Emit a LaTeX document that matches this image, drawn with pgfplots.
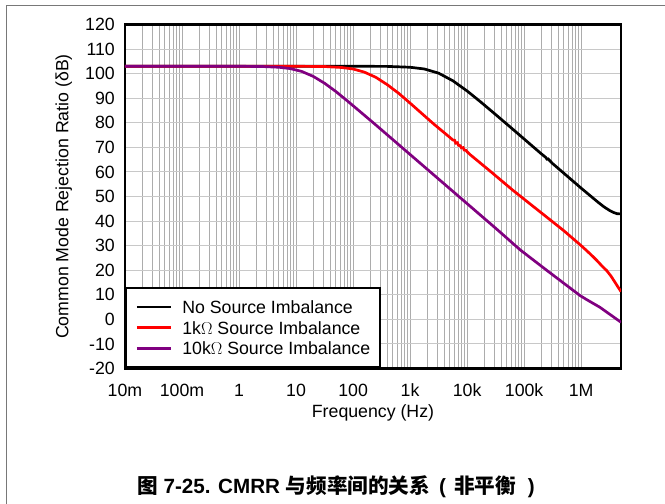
\documentclass[border=0pt]{standalone}
\usepackage{fontspec}
\setmainfont{Liberation Sans}
\newfontfamily\cjk{Noto Sans CJK SC}
\usepackage{pgfplots}
\pgfplotsset{compat=1.18}
\definecolor{cpurple}{RGB}{128,0,128}
\definecolor{cred}{RGB}{255,0,0}
\definecolor{gridx}{RGB}{172,172,172}
\definecolor{gridy}{RGB}{200,200,200}
\definecolor{framec}{RGB}{120,120,120}

\pgfplotstableread{
f v
0.01 103
100 103
398 102.95
1000 102.6
1778 101.9
3162 100.2
5623 97.1
10000 92.95
17783 88.25
31623 83.35
56234 78.4
100000 73.4
199526 67.4
239883 65.9
251189 65.2
263027 65.3
316228 63.4
1000000 53.4
1995262 47.6
2511886 45.8
3162278 44.3
3715352 43.5
4265795 43.0
5000000 42.9
}\tblack

\pgfplotstableread{
f v
0.01 103
10 103
31.62 102.9
63.1 102.5
100 101.9
158.5 100.6
251.2 98.5
398.1 95.5
631 92.0
1000 88.0
1585 83.9
2570 79.6
5012 74.0
5623 73.0
6026 72.9
6310 71.7
6761 71.9
7079 70.8
7586 70.7
7943 69.8
8511 69.9
8913 68.9
9550 68.8
10000 68.2
11220 67.1
25119 60.4
64565 52.4
177828 44.3
489779 36.2
1000000 30.0
1258925 27.9
1584893 25.7
1862087 24.1
2238721 22.1
2818383 19.8
3311311 17.7
3801894 15.6
4365158 13.4
5000000 11.3
}\tred

\pgfplotstableread{
f v
0.01 103
1 103
2.512 102.9
5.012 102.6
7.943 102.05
12.59 100.9
19.95 98.9
31.62 96.1
50.12 92.7
79.43 88.9
125.9 85.0
251.2 79.1
501.2 73.1
1000 67.1
3162 57.1
10000 47.1
33113 36.7
85114 28.3
251189 19.9
954993 9.7
1258925 8.0
2137962 4.9
3162278 2.1
4677351 -0.7
5000000 -1.2
}\tpurple

\begin{document}
\begin{tikzpicture}
\useasboundingbox (0bp,0bp) rectangle (665bp,-504bp);
\draw[framec, line width=1.3bp] (6.5bp,-504bp) -- (6.5bp,-5.5bp) -- (665bp,-5.5bp);
\begin{axis}[
  at={(125bp,-368.5bp)}, anchor=south west,
  scale only axis, width=496bp, height=344bp,
  xmode=log, xmin=0.01, xmax=5e6, ymin=-20, ymax=120,
  ytick={-20,-10,0,10,20,30,40,50,60,70,80,90,100,110,120},
  yticklabels={-20,-10,0,10,20,30,40,50,60,70,80,90,100,110,120},
  xtick={0.01,0.1,1,10,100,1000,10000,100000,1000000},
  xticklabels={10m,100m,1,10,100,1k,10k,100k,1M},
  grid=both,
  every axis grid/.style={line width=1bp},
  every axis x grid/.style={gridx},
  every axis y grid/.style={gridy},
  major grid style={line width=1bp},
  minor grid style={line width=1bp},
  major tick length=0pt, minor tick length=0pt,
  axis line style={line width=2.3bp, black},
  tick label style={font=\fontsize{17.8}{20}\selectfont},
  xticklabel style={anchor=base, yshift=-28bp},
  yticklabel style={anchor=east, inner sep=0pt, xshift=-10bp},
  every axis x label/.style={at={(axis description cs:0.5,-0.141)}, anchor=base, font=\fontsize{17.8}{20}\selectfont},
  every axis y label/.style={at={(axis description cs:-0.1139,0.5)}, anchor=base, rotate=90, font=\fontsize{17.8}{20}\selectfont},
  xlabel={Frequency (Hz)},
  ylabel={Common Mode Rejection Ratio (δB)},
  legend cell align=left,
  legend style={at={(0,0)}, anchor=south west, draw=black, line width=2.2bp,
    fill=white, inner xsep=9.5bp, inner ysep=12.5bp,
    font=\fontsize{17.8}{20}\selectfont,
    nodes={inner sep=0pt, text height=13bp, text depth=0bp},
    row sep=7.7bp},
  /tikz/every odd column/.append style={column sep=10bp},
  legend image code/.code={\draw[#1] (0bp,0bp) -- (34bp,0bp);},
]
\addplot[black, line width=2.7bp] table[x=f,y=v] {\tblack};
\addlegendentry{No Source Imbalance}
\addplot[cred, line width=2.7bp] table[x=f,y=v] {\tred};
\addlegendentry{1k$\Omega$ Source Imbalance}
\addplot[cpurple, line width=2.7bp] table[x=f,y=v] {\tpurple};
\addlegendentry{10k$\Omega$ Source Imbalance}
\end{axis}
\node[font=\fontsize{20.7}{24}\selectfont\bfseries, anchor=base west, inner sep=0pt] at (137bp,-493.4bp)
  {{\cjk 图} 7-25. CMRR {\cjk 与频率间的关系}\hspace{9bp}(\hspace{8bp}{\cjk 非平衡}\hspace{12bp})};
\end{tikzpicture}
\end{document}
